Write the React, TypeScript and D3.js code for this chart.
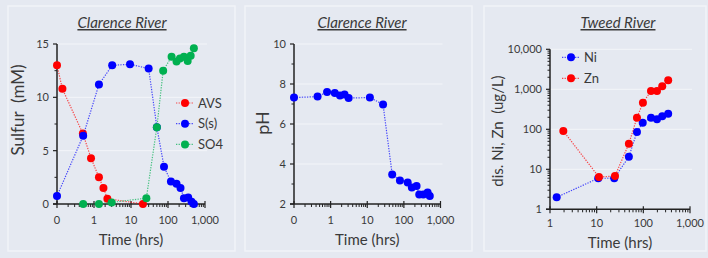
import React, { useEffect, useRef } from "react";
import * as d3 from "d3";

// Clarence River - sulfur species (mM) vs time (hrs); time 0 is drawn at 0.1
const avsTime = [0.1, 0.14, 0.5, 0.83, 1.36, 1.8, 2.3, 21];
const avsValue = [13, 10.8, 6.6, 4.3, 2.5, 1.5, 0.5, 0];
const ssTime = [0.1, 0.51, 1.36, 3.1, 9.4, 30, 50, 78, 120, 170, 218, 270, 352, 433, 500];
const ssValue = [0.75, 6.4, 11.2, 13.0, 13.1, 12.7, 7.2, 3.5, 2.1, 1.9, 1.5, 0.55, 0.6, 0.2, 0];
const so4Time = [0.51, 1.36, 3, 26, 50, 74, 125, 170, 210, 270, 340, 410, 500];
const so4Value = [0, 0, 0.15, 0.55, 7.2, 12.5, 13.8, 13.35, 13.65, 13.8, 13.4, 13.9, 14.6];

// Clarence River - pH
const phTime = [0.1, 0.44, 0.8, 1.3, 1.8, 2.4, 3.1, 11.8, 27, 48, 78, 127, 165, 222, 263, 340, 445, 510];
const phValue = [7.32, 7.37, 7.6, 7.55, 7.43, 7.48, 7.3, 7.32, 6.98, 3.48, 3.18, 3.07, 2.82, 2.9, 2.48, 2.48, 2.57, 2.4];

// Tweed River - dissolved Ni, Zn (ug/L)
const niTime = [1.39, 10.8, 23.8, 49, 73, 97, 146, 196, 254, 341];
const niValue = [2.0, 5.96, 6.0, 20.6, 86, 146, 195, 178, 211, 245];
const znTime = [1.93, 11.2, 24.7, 49, 73, 98, 146, 196, 254, 341];
const znValue = [91, 6.4, 6.8, 43.6, 195, 462, 906, 906, 1190, 1680];

// tick labels
const clarenceXTicks = [0.1, 1, 10, 100, 1000];
const clarenceXLabels = ["0", "1", "10", "100", "1,000"];
const sulfurTicks = [0, 5, 10, 15];
const phTicks = [2, 4, 6, 8, 10];
const tweedXTicks = [1, 10, 100, 1000];
const tweedXLabels = ["1", "10", "100", "1,000"];
const metalTicks = [1, 10, 100, 1000, 10000];
const metalLabels = ["1", "10", "100", "1,000", "10,000"];

const FONT = "Lato, 'Open Sans', sans-serif";
const TEXT = "#3a3a3a";
const RED = "#ff0000";
const BLUE = "#0000ff";
const GREEN = "#00b050";

const logMinors = (lo, hi) => {
  const out = [];
  for (let d = lo; d < hi; d *= 10) {
    for (let k = 2; k <= 9; k++) out.push(d * k);
  }
  return out;
};

const drawPanel = (svg, cfg) => {
  const { box, x, y, yTicks, yLabels, yMinor, xTicks, xLabels, xMinor } = cfg;
  const [x0, x1] = x.range();
  const [yb, yt] = y.range();
  const g = svg.append("g");

  g.append("rect")
    .attr("x", box[0])
    .attr("y", box[1])
    .attr("width", box[2])
    .attr("height", box[3])
    .attr("fill", "none")
    .attr("stroke", "#f1f3f8")
    .attr("stroke-width", 1.5);

  // gridlines
  g.selectAll(".grid")
    .data(yTicks.slice(1))
    .enter()
    .append("line")
    .attr("x1", x0)
    .attr("x2", x1 + 2)
    .attr("y1", (d) => y(d))
    .attr("y2", (d) => y(d))
    .attr("stroke", "#f3f5f9")
    .attr("stroke-width", 1);

  // title
  g.append("text")
    .attr("x", cfg.titleX)
    .attr("y", 28)
    .attr("text-anchor", "middle")
    .attr("font-family", FONT)
    .attr("font-size", 15)
    .attr("font-style", "italic")
    .attr("text-decoration", "underline")
    .attr("fill", TEXT)
    .text(cfg.title);

  // y ticks
  g.selectAll(".ymaj")
    .data(yTicks)
    .enter()
    .append("line")
    .attr("x1", x0 - 4)
    .attr("x2", x0)
    .attr("y1", (d) => y(d))
    .attr("y2", (d) => y(d))
    .attr("stroke", "#222")
    .attr("stroke-width", 1.2);
  g.selectAll(".ymin")
    .data(yMinor)
    .enter()
    .append("line")
    .attr("x1", x0 - 2.5)
    .attr("x2", x0)
    .attr("y1", (d) => y(d))
    .attr("y2", (d) => y(d))
    .attr("stroke", "#222")
    .attr("stroke-width", 1);
  g.selectAll(".ylab")
    .data(yTicks)
    .enter()
    .append("text")
    .attr("x", x0 - 8)
    .attr("y", (d) => y(d) + 4)
    .attr("text-anchor", "end")
    .attr("font-family", FONT)
    .attr("font-size", 11)
    .attr("fill", TEXT)
    .text((d, i) => yLabels[i]);

  // x ticks
  g.selectAll(".xmaj")
    .data(xTicks)
    .enter()
    .append("line")
    .attr("x1", (d) => x(d))
    .attr("x2", (d) => x(d))
    .attr("y1", yb - 3)
    .attr("y2", yb + 4)
    .attr("stroke", "#222")
    .attr("stroke-width", 1.2);
  g.selectAll(".xmin")
    .data(xMinor)
    .enter()
    .append("line")
    .attr("x1", (d) => x(d))
    .attr("x2", (d) => x(d))
    .attr("y1", yb)
    .attr("y2", yb + 3)
    .attr("stroke", "#222")
    .attr("stroke-width", 1);
  g.selectAll(".xlab")
    .data(xTicks)
    .enter()
    .append("text")
    .attr("x", (d) => x(d))
    .attr("y", yb + cfg.xTickGap)
    .attr("text-anchor", "middle")
    .attr("font-family", FONT)
    .attr("font-size", 11)
    .attr("fill", TEXT)
    .text((d, i) => xLabels[i]);

  // axis lines
  g.append("line")
    .attr("x1", x0)
    .attr("x2", x0)
    .attr("y1", yt)
    .attr("y2", yb)
    .attr("stroke", "#222")
    .attr("stroke-width", 1.5);
  g.append("line")
    .attr("x1", x0 - 4)
    .attr("x2", x1)
    .attr("y1", yb)
    .attr("y2", yb)
    .attr("stroke", "#222")
    .attr("stroke-width", 1.5);

  // axis titles
  g.append("text")
    .attr("x", (x0 + x1) / 2)
    .attr("y", cfg.xTitleY)
    .attr("text-anchor", "middle")
    .attr("font-family", FONT)
    .attr("font-size", 15)
    .attr("fill", TEXT)
    .text("Time (hrs)");
  g.append("text")
    .attr("transform", `translate(${cfg.yTitleX}, ${cfg.yTitleY}) rotate(-90)`)
    .attr("text-anchor", "middle")
    .attr("font-family", FONT)
    .attr("font-size", cfg.yTitleSize)
    .attr("fill", TEXT)
    .style("white-space", "pre")
    .text(cfg.yTitle);

  // series
  cfg.series.forEach((s) => {
    const pts = s.time.map((t, i) => [x(t), y(s.value[i])]);
    g.append("path")
      .attr("d", d3.line()(pts))
      .attr("fill", "none")
      .attr("stroke", s.color)
      .attr("stroke-width", 1.2)
      .attr("stroke-dasharray", "1.3,1.3")
      .attr("opacity", 0.7);
    g.selectAll(null)
      .data(pts)
      .enter()
      .append("circle")
      .attr("cx", (d) => d[0])
      .attr("cy", (d) => d[1])
      .attr("r", 4)
      .attr("fill", s.color);
  });

  // legend
  cfg.series.forEach((s, i) => {
    if (!s.name) return;
    const ly = cfg.legend[1] + i * cfg.legendStep;
    const lx = cfg.legend[0];
    g.append("line")
      .attr("x1", lx)
      .attr("x2", lx + 18)
      .attr("y1", ly)
      .attr("y2", ly)
      .attr("stroke", s.color)
      .attr("stroke-width", 1.2)
      .attr("stroke-dasharray", "1.3,1.3")
      .attr("opacity", 0.7);
    g.append("circle")
      .attr("cx", lx + 9)
      .attr("cy", ly)
      .attr("r", 4)
      .attr("fill", s.color);
    g.append("text")
      .attr("x", lx + 22)
      .attr("y", ly + 4.5)
      .attr("font-family", FONT)
      .attr("font-size", 13)
      .attr("fill", TEXT)
      .text(s.name);
  });
};

const App = () => {
  const svgRef = useRef(null);

  useEffect(() => {
    const svg = d3.select(svgRef.current);
    svg.selectAll("*").remove();

    svg.append("rect").attr("width", 708).attr("height", 258).attr("fill", "#e5e9f1");

    const clarenceMinor = logMinors(0.1, 1000);

    drawPanel(svg, {
      box: [8, 6, 227, 245],
      title: "Clarence River",
      titleX: 122,
      x: d3.scaleLog().domain([0.1, 1000]).range([57, 205]),
      y: d3.scaleLinear().domain([0, 15]).range([204, 44]),
      yTicks: sulfurTicks,
      yLabels: sulfurTicks.map(String),
      yMinor: [2.5, 7.5, 12.5],
      xTicks: clarenceXTicks,
      xLabels: clarenceXLabels,
      xMinor: clarenceMinor,
      xTickGap: 20,
      xTitleY: 245,
      yTitle: "Sulfur  (mM)",
      yTitleX: 24,
      yTitleY: 110,
      yTitleSize: 17,
      series: [
        { name: "AVS", time: avsTime, value: avsValue, color: RED },
        { name: "S(s)", time: ssTime, value: ssValue, color: BLUE },
        { name: "SO4", time: so4Time, value: so4Value, color: GREEN },
      ],
      legend: [176, 103],
      legendStep: 20.7,
    });

    drawPanel(svg, {
      box: [245, 6, 227, 245],
      title: "Clarence River",
      titleX: 362,
      x: d3.scaleLog().domain([0.1, 1000]).range([294, 440.5]),
      y: d3.scaleLinear().domain([2, 10]).range([204, 44]),
      yTicks: phTicks,
      yLabels: phTicks.map(String),
      yMinor: [3, 5, 7, 9],
      xTicks: clarenceXTicks,
      xLabels: clarenceXLabels,
      xMinor: clarenceMinor,
      xTickGap: 20,
      xTitleY: 245,
      yTitle: "pH",
      yTitleX: 269,
      yTitleY: 123,
      yTitleSize: 18,
      series: [{ name: "", time: phTime, value: phValue, color: BLUE }],
      legend: [0, 0],
      legendStep: 0,
    });

    drawPanel(svg, {
      box: [484, 6, 222, 245],
      title: "Tweed River",
      titleX: 618,
      x: d3.scaleLog().domain([1, 1000]).range([550, 690]),
      y: d3.scaleLog().domain([1, 10000]).range([209.3, 49.3]),
      yTicks: metalTicks,
      yLabels: metalLabels,
      yMinor: logMinors(1, 10000),
      xTicks: tweedXTicks,
      xLabels: tweedXLabels,
      xMinor: logMinors(1, 1000),
      xTickGap: 18,
      xTitleY: 248,
      yTitle: "dis. Ni, Zn  (ug/L)",
      yTitleX: 503,
      yTitleY: 131,
      yTitleSize: 15,
      series: [
        { name: "Ni", time: niTime, value: niValue, color: BLUE },
        { name: "Zn", time: znTime, value: znValue, color: RED },
      ],
      legend: [562, 57.3],
      legendStep: 21,
    });
  }, []);

  return (
    <svg
      ref={svgRef}
      width={708}
      height={258}
      style={{ position: "fixed", left: 0, top: 0 }}
    ></svg>
  );
};

export default App;
